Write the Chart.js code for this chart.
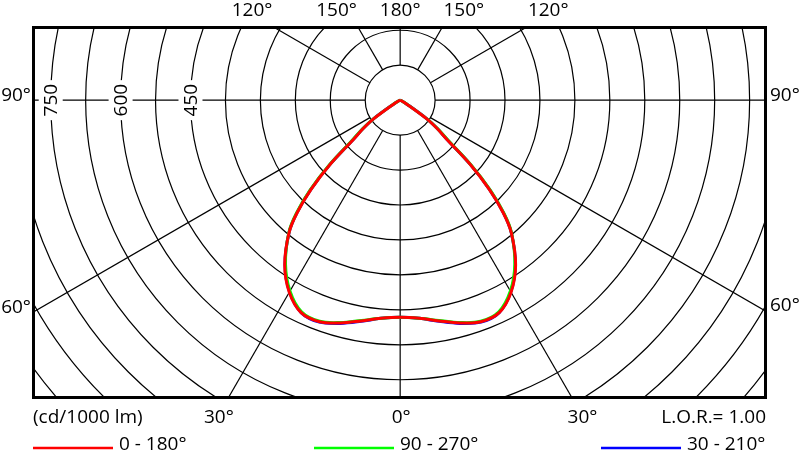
<!DOCTYPE html>
<html>
<head>
<meta charset="utf-8">
<script src="https://cdn.jsdelivr.net/npm/chart.js@4.4.1/dist/chart.umd.min.js"></script>
<style>
  html, body { margin: 0; padding: 0; background: #fff; }
  #wrap { width: 800px; height: 454px; position: relative; }
</style>
</head>
<body>
<div id="wrap"><canvas id="chart"></canvas></div>
<script>
// gamma angle from nadir (deg) and intensity (cd/1000 lm) for each C-plane pair
const gammaDeg = [0, 5, 10, 15, 20, 25, 30, 35, 40, 42.5, 45, 47.5, 50, 52.5, 55, 60, 65, 70, 90];
const c0_180 = [466, 470, 481, 495, 506, 503, 476, 432, 371, 327, 270, 203, 131, 100, 69, 14, 3, 0, 0];
const c90_270 = [466, 470, 480, 494, 505, 501, 473, 429, 372, 330, 274, 207, 135, 103, 71, 15, 3, 0, 0];
const c30_210 = [466, 470, 482, 496, 507, 503, 475, 431, 371, 328, 271, 204, 132, 101, 70, 14, 3, 0, 0];

const seriesLabels = ["0 - 180°", "90 - 270°", "30 - 210°"];
const seriesColors = ["#ff0000", "#00ff00", "#0000ff"];

const ringValues = [75, 150, 225, 300, 375, 450, 525, 600, 675, 750, 825, 900, 975, 1050, 1125];
const ringLabels = [450, 600, 750];
const spokeAngles = [0, 30, 60, 90, 120, 150, 180];

const FONT = '19px "Open Sans", "DejaVu Sans", sans-serif';

// polar curve -> x/y points, left half mirrored
function toPoints(values) {
  const pts = [];
  for (let i = gammaDeg.length - 1; i >= 0; i--) {
    const a = gammaDeg[i] * Math.PI / 180;
    pts.push({ x: -values[i] * Math.sin(a), y: -values[i] * Math.cos(a) });
  }
  for (let i = 1; i < gammaDeg.length; i++) {
    const a = gammaDeg[i] * Math.PI / 180;
    pts.push({ x: values[i] * Math.sin(a), y: -values[i] * Math.cos(a) });
  }
  return pts;
}

function center(chart) {
  return {
    cx: chart.scales.x.getPixelForValue(0),
    cy: chart.scales.y.getPixelForValue(0),
    k: chart.scales.x.getPixelForValue(100) - chart.scales.x.getPixelForValue(0)
  };
}

function edgeHit(chart, angle, side) {
  const { cx, cy } = center(chart);
  const area = chart.chartArea;
  const a = angle * Math.PI / 180;
  const dx = side * Math.sin(a), dy = Math.cos(a);
  let tx = Infinity, ty = Infinity;
  if (dx > 1e-9) tx = (area.right - cx) / dx;
  if (dx < -1e-9) tx = (area.left - cx) / dx;
  if (dy > 1e-9) ty = (area.bottom - cy) / dy;
  if (dy < -1e-9) ty = (area.top - cy) / dy;
  const t = Math.min(tx, ty);
  let edge;
  if (tx < ty) edge = dx > 0 ? "right" : "left";
  else edge = dy > 0 ? "bottom" : "top";
  return { x: cx + dx * t, y: cy + dy * t, t, dx, dy, edge };
}

const polarGrid = {
  id: "polarGrid",
  beforeDatasetsDraw(chart) {
    const ctx = chart.ctx;
    const area = chart.chartArea;
    const { cx, cy, k } = center(chart);
    ctx.save();
    ctx.beginPath();
    ctx.rect(area.left, area.top, area.right - area.left, area.bottom - area.top);
    ctx.clip();
    ctx.strokeStyle = "#000";
    ctx.lineWidth = 1.2;
    ringValues.forEach((r) => {
      ctx.beginPath();
      ctx.arc(cx, cy, r * k / 100, 0, Math.PI * 2);
      ctx.stroke();
    });
    const r0 = ringValues[0] * k / 100;
    spokeAngles.forEach((ang) => {
      const sides = ang === 0 || ang === 180 ? [1] : [-1, 1];
      sides.forEach((s) => {
        const h = edgeHit(chart, ang, s);
        ctx.beginPath();
        ctx.moveTo(cx + h.dx * r0, cy + h.dy * r0);
        ctx.lineTo(h.x, h.y);
        ctx.stroke();
      });
    });
    // ring value labels on the left horizontal
    ctx.font = FONT;
    ctx.textAlign = "center";
    ctx.textBaseline = "middle";
    ringLabels.forEach((v) => {
      const px = cx - v * k / 100;
      ctx.fillStyle = "#fff";
      ctx.fillRect(px - 12, cy - 20, 24, 40);
      ctx.save();
      ctx.translate(px, cy);
      ctx.rotate(-Math.PI / 2);
      ctx.fillStyle = "#000";
      ctx.fillText(String(v), 0, 1);
      ctx.restore();
    });
    ctx.restore();
  },
  afterDraw(chart) {
    const ctx = chart.ctx;
    const area = chart.chartArea;
    ctx.save();
    ctx.strokeStyle = "#000";
    ctx.lineWidth = 3;
    ctx.strokeRect(area.left + 0.5, area.top + 0.5, area.right - area.left, area.bottom - area.top);

    ctx.fillStyle = "#000";
    ctx.font = FONT;
    ctx.textBaseline = "middle";
    spokeAngles.forEach((ang) => {
      const sides = ang === 0 || ang === 180 ? [1] : [-1, 1];
      sides.forEach((s) => {
        const h = edgeHit(chart, ang, s);
        const txt = ang + "°";
        const single = sides.length === 1;
        if (h.edge === "top") {
          ctx.textAlign = single ? "center" : s < 0 ? "right" : "left";
          ctx.fillText(txt, single ? h.x : h.x + s, 11);
        } else if (h.edge === "bottom") {
          ctx.textAlign = single ? "center" : s < 0 ? "right" : "left";
          ctx.fillText(txt, single ? h.x + 1 : h.x + (s < 0 ? 5 : -4), 418);
        } else if (h.edge === "left") {
          ctx.textAlign = "right";
          ctx.fillText(txt, area.left - 2, h.y - 5);
        } else {
          ctx.textAlign = "left";
          ctx.fillText(txt, area.right + 5, h.y - 5);
        }
      });
    });

    ctx.textAlign = "left";
    ctx.fillText("(cd/1000 lm)", area.left, 418);
    ctx.textAlign = "right";
    ctx.fillText("L.O.R.= 1.00", area.right + 1, 418);

    // legend
    const legendX = [33, 314, 601];
    chart.data.datasets.forEach((ds, i) => {
      const x0 = legendX[i];
      ctx.strokeStyle = ds.borderColor;
      ctx.lineWidth = 2.5;
      ctx.beginPath();
      ctx.moveTo(x0, 448);
      ctx.lineTo(x0 + 80, 448);
      ctx.stroke();
      ctx.fillStyle = "#000";
      ctx.textAlign = "left";
      ctx.fillText(ds.label, x0 + 86, 445);
    });
    ctx.restore();
  }
};

const datasets = [c0_180, c90_270, c30_210].map((vals, i) => ({
  label: seriesLabels[i],
  data: toPoints(vals),
  borderColor: seriesColors[i],
  borderWidth: 3,
  showLine: true,
  pointRadius: 0,
  tension: 0.35,
  fill: false
}));

new Chart(document.getElementById("chart"), {
  type: "scatter",
  data: { datasets },
  options: {
    responsive: true,
    maintainAspectRatio: false,
    animation: false,
    layout: { padding: { left: 33, top: 27, right: 35, bottom: 57 } },
    plugins: { legend: { display: false }, tooltip: { enabled: false } },
    scales: {
      x: { type: "linear", min: -788, max: 783, display: false },
      y: { type: "linear", min: -637, max: 157, display: false }
    }
  },
  plugins: [polarGrid]
});
</script>
</body>
</html>
